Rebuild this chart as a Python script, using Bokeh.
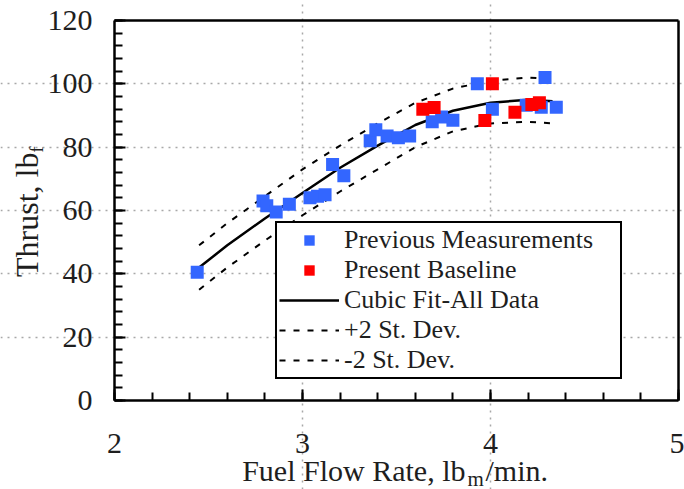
from math import pi
import numpy as np
from bokeh.plotting import figure
from bokeh.models import (FixedTicker, Legend, LegendItem, Label, LinearAxis,
                          ColumnDataSource, Range1d)
from bokeh.embed import file_html
from bokeh.resources import INLINE

# ---------------- data ----------------
prev_flow = [2.44, 2.79, 2.81, 2.86, 2.93, 3.04, 3.08, 3.12, 3.16, 3.22,
             3.36, 3.39, 3.45, 3.51, 3.57, 3.69, 3.74, 3.80, 3.93, 4.01,
             4.19, 4.27, 4.29, 4.35]
prev_thrust = [40.5, 63.0, 61.5, 59.5, 62.0, 64.0, 64.5, 65.0, 74.5, 71.0,
               82.0, 85.5, 83.5, 83.0, 83.5, 88.0, 89.5, 88.5, 100.0, 92.0,
               93.2, 92.6, 102.0, 92.6]

pres_flow = [3.64, 3.70, 3.97, 4.01, 4.13, 4.22, 4.26]
pres_thrust = [92.0, 92.5, 88.4, 100.0, 91.0, 93.5, 94.0]

fit_flow = [2.45, 2.60, 2.80, 3.00, 3.20, 3.40, 3.60, 3.80, 4.00, 4.20, 4.33]
fit_thrust = [42.0, 49.0, 57.5, 65.5, 73.5, 80.5, 87.0, 91.5, 94.0, 95.0, 94.5]
upper_thrust = [49.0, 56.0, 64.5, 73.0, 80.5, 87.5, 94.0, 98.5, 101.0, 102.0, 101.5]
lower_thrust = [35.0, 42.0, 50.5, 58.5, 66.0, 73.0, 80.0, 85.0, 87.5, 88.0, 87.5]

x_ticks = [2, 3, 4, 5]
y_ticks = [0, 20, 40, 60, 80, 100, 120]
x_tick_labels = ["2", "3", "4", "5"]
y_tick_labels = ["0", "20", "40", "60", "80", "100", "120"]

legend_labels = ["Previous Measurements", "Present Baseline",
                 "Cubic Fit-All Data", "+2 St. Dev.", "-2 St. Dev."]

# ---------------- layout / styling ----------------
FONT = "Liberation Serif"
TXT = "#1e1e1e"
BLUE = "#3366FF"
RED = "#FF0000"

W, H = 684, 489
X0, X1, Y0, Y1 = 2, 5, 0, 120            # axis box
BOX_L, BOX_R, BOX_T, BOX_B = 114, 678, 20, 400   # box position in pixels
kx = (BOX_R - BOX_L) / (X1 - X0)
ky = (BOX_B - BOX_T) / (Y1 - Y0)

# the frame spans the whole canvas; the axis box is drawn by fixed-location axes
p = figure(width=W, height=H, output_backend="svg", toolbar_location=None,
           x_range=Range1d(X0 - BOX_L / kx, X1 + (W - BOX_R) / kx),
           y_range=Range1d(Y0 - (H - BOX_B) / ky, Y1 + BOX_T / ky),
           min_border=0)
p.background_fill_color = "white"
p.border_fill_color = "white"
p.outline_line_color = None

xax = p.xaxis[0]
yax = p.yaxis[0]
xax.fixed_location = Y0
yax.fixed_location = X0
xax.bounds = (X0, X1)
yax.bounds = (Y0, Y1)
xax.ticker = FixedTicker(ticks=x_ticks,
                         minor_ticks=list(np.round(np.arange(2, 5.001, 0.2), 2)))
yax.ticker = FixedTicker(ticks=y_ticks, minor_ticks=list(range(0, 121, 4)))
xax.major_label_overrides = {t: s for t, s in zip(x_ticks, x_tick_labels)}
yax.major_label_overrides = {t: s for t, s in zip(y_ticks, y_tick_labels)}
for ax in (xax, yax):
    ax.axis_line_color = "black"
    ax.axis_line_width = 2.5
    ax.major_tick_in = 11
    ax.major_tick_out = 0
    ax.minor_tick_in = 8
    ax.minor_tick_out = 0
    ax.major_tick_line_width = 2
    ax.minor_tick_line_width = 2
    ax.major_tick_line_color = "black"
    ax.minor_tick_line_color = "black"
    ax.major_label_text_font = FONT
    ax.major_label_text_font_size = "30px"
    ax.major_label_text_color = TXT
xax.major_label_standoff = 33
yax.major_label_standoff = 22

# top and right edges of the box (plain axis lines, no ticks)
top_ax = LinearAxis(fixed_location=Y1, bounds=(X0, X1), ticker=FixedTicker(ticks=[]))
right_ax = LinearAxis(fixed_location=X1, bounds=(Y0, Y1), ticker=FixedTicker(ticks=[]))
for ax in (top_ax, right_ax):
    ax.axis_line_color = "black"
    ax.axis_line_width = 2.5
    ax.major_tick_in = 0
    ax.major_tick_out = 0
    ax.minor_tick_in = 0
    ax.minor_tick_out = 0
p.add_layout(top_ax, "above")
p.add_layout(right_ax, "right")

# grid
p.xgrid.ticker = FixedTicker(ticks=[3, 4])
p.ygrid.ticker = FixedTicker(ticks=[20, 40, 60, 80, 100])
p.xgrid.bounds = (Y0, Y1)
p.ygrid.bounds = (X0, X1)
for g in (p.xgrid, p.ygrid):
    g.grid_line_color = "#a8a8a8"
    g.grid_line_dash = "2 5"
    g.grid_line_width = 1.5

# ---------------- renderers ----------------
fit_src = ColumnDataSource(dict(x=fit_flow, y=fit_thrust,
                                up=upper_thrust, lo=lower_thrust))
r_up = p.line("x", "up", source=fit_src, line_color="black",
              line_width=2, line_dash="6 8")
r_lo = p.line("x", "lo", source=fit_src, line_color="black",
              line_width=2, line_dash="6 8")
r_fit = p.line("x", "y", source=fit_src, line_color="black", line_width=2.5)

prev_src = ColumnDataSource(dict(x=prev_flow, y=prev_thrust))
pres_src = ColumnDataSource(dict(x=pres_flow, y=pres_thrust))
r_prev = p.scatter("x", "y", source=prev_src, marker="square", size=13,
                   fill_color=BLUE, line_color=None)
r_pres = p.scatter("x", "y", source=pres_src, marker="square", size=13,
                   fill_color=RED, line_color=None)

legend = Legend(items=[
    LegendItem(label=legend_labels[0], renderers=[r_prev]),
    LegendItem(label=legend_labels[1], renderers=[r_pres]),
    LegendItem(label=legend_labels[2], renderers=[r_fit]),
    LegendItem(label=legend_labels[3], renderers=[r_up]),
    LegendItem(label=legend_labels[4], renderers=[r_lo]),
], location=(275, H - 379))
legend.margin = 0
legend.padding = 2
legend.spacing = 0
legend.glyph_width = 60
legend.glyph_height = 26
legend.label_height = 26
legend.label_width = 274
legend.label_standoff = 5
legend.label_text_font = FONT
legend.label_text_font_size = "26px"
legend.label_text_color = TXT
legend.border_line_color = "black"
legend.border_line_alpha = 1.0
legend.border_line_width = 2
legend.background_fill_color = "white"
legend.background_fill_alpha = 1.0
p.add_layout(legend)

# ---------------- axis titles with subscripts ----------------
def title_part(text, dx, dy, size, align, angle=0.0):
    p.add_layout(Label(x=X0, y=Y0, x_offset=dx, y_offset=dy, text=text,
                       angle=angle, text_align=align,
                       text_baseline="alphabetic", text_font=FONT,
                       text_font_size=size, text_color=TXT))

title_part("Thrust, lb", -88, 248, "32px", "right", pi / 2)
title_part("f", -78, 248, "18px", "left", pi / 2)
title_part("Fuel Flow Rate, lb", 351, -70, "30px", "right")
title_part("m", 353, -78, "21px", "left")
title_part("/min.", 371, -70, "30px", "left")

open("out.html", "w").write(file_html(p, INLINE))
